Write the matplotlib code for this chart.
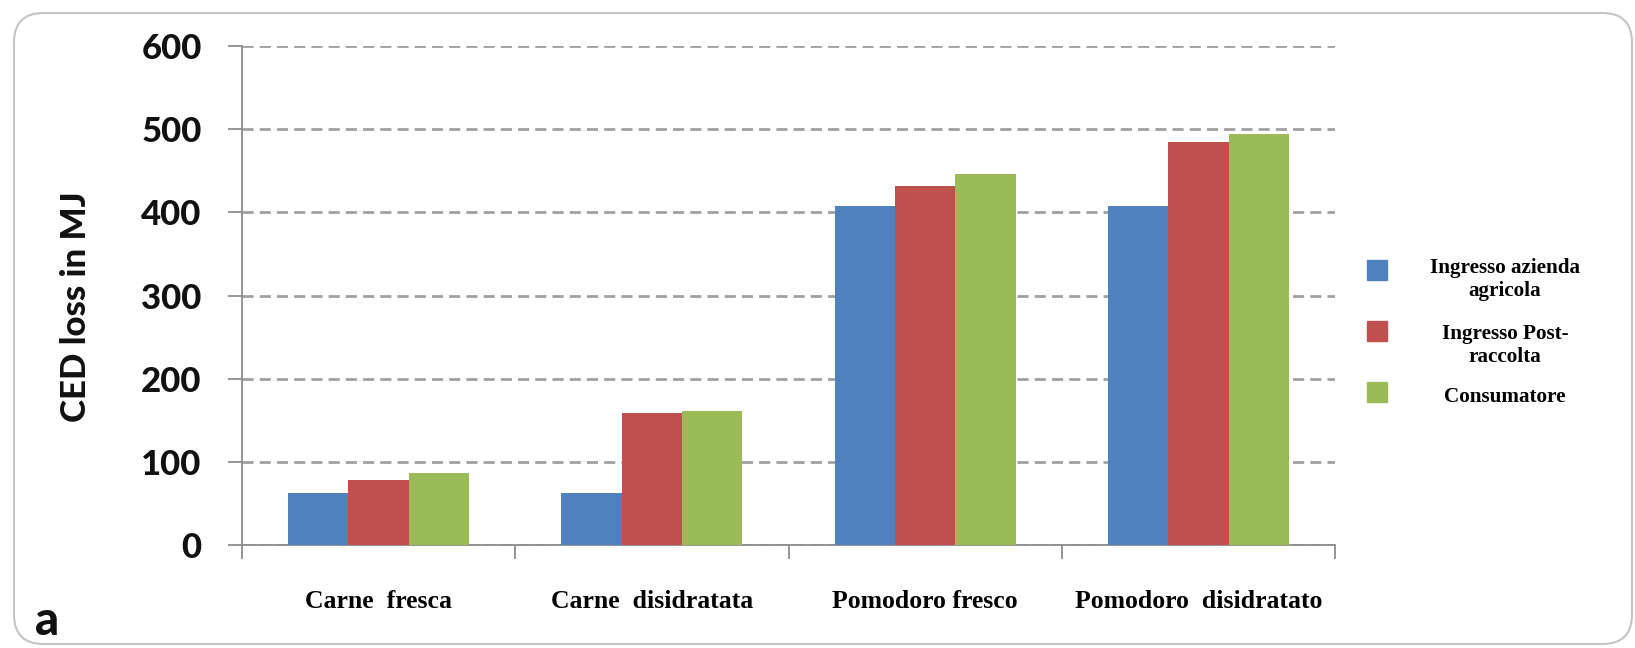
#!/usr/bin/env python3
import matplotlib
matplotlib.use("Agg")
import matplotlib.pyplot as plt
import numpy as np
from matplotlib.patches import FancyBboxPatch, Rectangle

# data
categories = ["Carne  fresca", "Carne  disidratata", "Pomodoro fresco", "Pomodoro  disidratato"]
series = ["Ingresso azienda\nagricola", "Ingresso Post-\nraccolta", "Consumatore"]
farm = [63, 63, 408, 408]
post_harvest = [79, 159, 432, 485]
consumer = [87, 161, 446, 494]
yticks = [0, 100, 200, 300, 400, 500, 600]

colors = ["#4F81BD", "#C0504D", "#9BBB59"]
values = [farm, post_harvest, consumer]

W, H = 1635, 648
fig = plt.figure(figsize=(W / 100, H / 100), dpi=100)
ax = fig.add_axes([242 / W, 1 - 545.3 / H, (1335 - 242) / W, (545.3 - 45.9) / H])

x = np.arange(len(categories)) + 0.5
bw = 0.221
for k, (vals, col) in enumerate(zip(values, colors)):
    ax.bar(x + (k - 1) * bw, vals, bw, color=col, zorder=3, linewidth=0)

ax.set_xlim(0, len(categories))
ax.set_ylim(0, 600)
ax.set_yticks(yticks)
ax.yaxis.grid(True, color="#a0a0a0", linestyle=(0, (4, 2.2)), linewidth=2, zorder=0)
ax.set_axisbelow(True)

for s in ["top", "right"]:
    ax.spines[s].set_visible(False)
for s in ["left", "bottom"]:
    ax.spines[s].set_color("#8c8c8c")
    ax.spines[s].set_linewidth(1.3)

# category boundaries as ticks, labels as minor ticks at centres
ax.set_xticks(np.arange(len(categories) + 1))
ax.set_xticklabels([])
ax.set_xticks(x, minor=True)
ax.set_xticklabels(categories, minor=True, fontfamily="Liberation Serif",
                   fontweight="bold", fontsize=18.5)
ax.tick_params(axis="x", which="major", direction="out", length=10,
               width=1.3, color="#8c8c8c")
ax.tick_params(axis="x", which="minor", length=0, pad=32)
ax.tick_params(axis="y", direction="out", length=10, width=1.3,
               color="#8c8c8c", pad=19)
for t in ax.get_yticklabels():
    t.set_fontfamily("Lato")
    t.set_fontweight(900)
    t.set_fontsize(25)
    t.set_color("#111111")

fig.text(76 / W, 1 - 307 / H, "CED loss in MJ", rotation=90, ha="center",
         va="center", fontfamily="Lato", fontweight=900, fontsize=25,
         color="#111111")
fig.text(35 / W, 1 - 635 / H, "a", ha="left", va="baseline",
         fontfamily="Lato", fontweight=900, fontsize=34, color="#111111")

# legend drawn by hand: square + centred label
leg_y = [268, 333, 397]
sq_y = [270, 331, 392]
for lab, col, ty, sy in zip(series, colors, leg_y, sq_y):
    fig.add_artist(Rectangle(((1377 - 10) / W, 1 - (sy + 10) / H), 20 / W, 20 / H,
                             transform=fig.transFigure, color=col))
    n = lab.count("\n")
    fig.text(1505 / W, 1 - (ty + n * 12) / H, lab, ha="center", va="center",
             multialignment="center", linespacing=1.2,
             fontfamily="Liberation Serif", fontweight="bold", fontsize=15.2)

# rounded chart frame
fig.add_artist(FancyBboxPatch((14 / W, 1 - 644 / H), (1632 - 14) / W, (644 - 13) / H,
                              boxstyle="round,pad=0,rounding_size=0.018",
                              transform=fig.transFigure, facecolor="none",
                              edgecolor="#c4c4c4", linewidth=1.5,
                              mutation_aspect=W / H))

fig.savefig("out.png", dpi=100)
